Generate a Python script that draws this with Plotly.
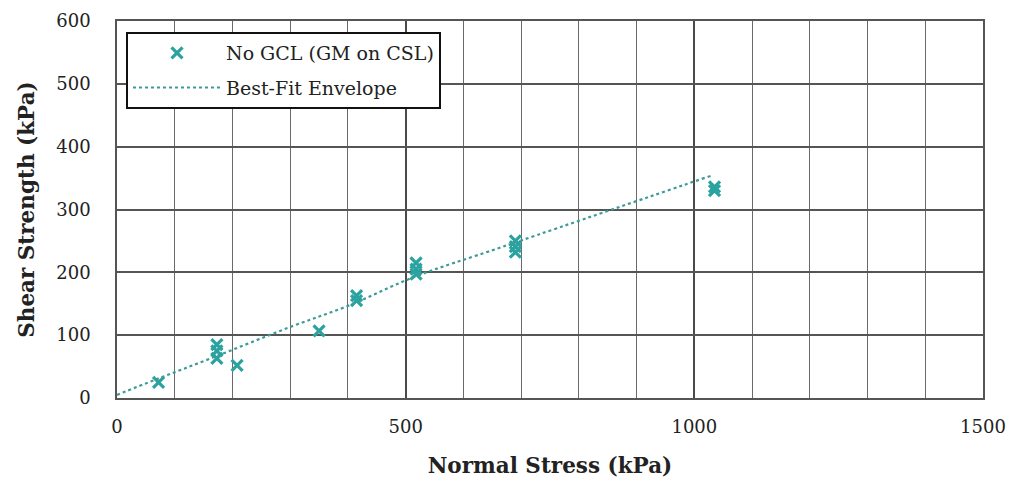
import plotly.graph_objects as go

# Test data
normal_stress = [72, 173, 173, 173, 208, 350, 415, 415, 518, 518, 518, 690, 690, 690, 1035, 1035]
shear_strength = [25, 85, 75, 63, 52, 107, 163, 155, 215, 205, 197, 250, 241, 232, 336, 330]

# Best-fit envelope
env_x = [0, 66, 165, 300, 404, 513, 669, 1033]
env_y = [5, 29, 64, 113, 148, 192, 241, 355]

x_ticks = [0, 500, 1000, 1500]
y_ticks = [0, 100, 200, 300, 400, 500, 600]

TEAL = "#2aa3a0"
SERIF = "DejaVu Serif, Liberation Serif, serif"

fig = go.Figure()
fig.add_trace(go.Scatter(
    x=normal_stress, y=shear_strength, mode="markers",
    name="No GCL (GM on CSL)", legendgroup="a",
    marker=dict(symbol="x-thin-open", size=11, color=TEAL,
                line=dict(color=TEAL, width=3.2)),
))
fig.add_trace(go.Scatter(
    x=env_x, y=env_y, mode="lines", name="Best-Fit Envelope", legendgroup="b",
    line=dict(color="#3c9b96", width=2.2, dash="dot", shape="spline"),
))

fig.update_layout(
    width=1014, height=483,
    margin=dict(l=109, r=39, t=13, b=93, autoexpand=False),
    paper_bgcolor="white", plot_bgcolor="white",
    font=dict(family=SERIF, size=18, color="#222"),
    showlegend=True,
    legend=dict(
        x=0.0104, y=0.971, xanchor="left", yanchor="top",
        bgcolor="white", bordercolor="#111", borderwidth=2,
        font=dict(family=SERIF, size=19, color="#222"),
        tracegroupgap=7, itemwidth=88,
    ),
    xaxis=dict(
        range=[0, 1500], tickvals=x_ticks, ticks="", automargin=False,
        ticklabelstandoff=12,
        showgrid=True, gridcolor="#4a4a4a", gridwidth=1.8,
        minor=dict(dtick=100, showgrid=True, gridcolor="#6a6a6a", gridwidth=1.4),
        showline=True, linecolor="#555", linewidth=1.6, mirror=True,
        zeroline=False,
        tickfont=dict(family=SERIF, size=18, color="#222"),
        title=dict(text="<b>Normal Stress (kPa)</b>", standoff=22,
                   font=dict(family=SERIF, size=21.5, color="#222")),
    ),
    yaxis=dict(
        range=[0, 600], tickvals=y_ticks, ticks="", automargin=False,
        ticklabelstandoff=21,
        showgrid=True, gridcolor="#555", gridwidth=1.7,
        showline=True, linecolor="#555", linewidth=1.6, mirror=True,
        zeroline=False,
        tickfont=dict(family=SERIF, size=18, color="#222"),
        title=dict(text="<b>Shear Strength (kPa)</b>", standoff=16,
                   font=dict(family=SERIF, size=21.5, color="#222")),
    ),
)

fig.write_html("out.html")
